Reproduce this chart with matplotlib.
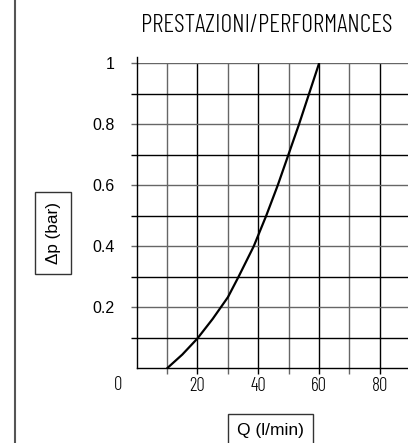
import matplotlib
matplotlib.use('Agg')
import numpy as np
import matplotlib.pyplot as plt
from matplotlib import font_manager as fm
from matplotlib.lines import Line2D
from matplotlib.ticker import FixedLocator
import matplotlib.transforms as mtransforms

# flow (l/min) vs pressure drop (bar)
q = [10, 15, 20, 25, 30, 33.5, 36, 38.5, 42.6, 46.4, 49.9, 53.4, 56.7, 60]
dp = [0.0, 0.045, 0.098, 0.162, 0.233, 0.3, 0.35, 0.4, 0.5, 0.6, 0.7, 0.8, 0.9, 1.0]

x_major = [20, 40, 60, 80]
x_minor = [10, 30, 50, 70, 90]
y_major = [0.2, 0.4, 0.6, 0.8, 1.0]
y_minor = [0.1, 0.3, 0.5, 0.7, 0.9]
y_labels = ['0.2', '0.4', '0.6', '0.8', '1']

title = 'PRESTAZIONI/PERFORMANCES'
xlabel = 'Q (l/min)'
ylabel = '\u0394p (bar)'

avail = {f.name for f in fm.fontManager.ttflist}
def pick(cands):
    for c in cands:
        if c in avail:
            return c
    return 'DejaVu Sans'

cad = pick(['Barlow Condensed', 'Archivo Narrow', 'Liberation Sans Narrow'])
arial = pick(['Liberation Sans', 'Arial'])

fig = plt.figure(figsize=(4.08, 4.43), dpi=100)
ax = fig.add_axes([0.335, 0.1686, 0.6706, 0.6885])
ax.set_xlim(0, 90)
ax.set_ylim(0, 1)

ax.xaxis.set_major_locator(FixedLocator(x_major))
ax.xaxis.set_minor_locator(FixedLocator(x_minor))
ax.yaxis.set_major_locator(FixedLocator(y_major))
ax.yaxis.set_minor_locator(FixedLocator(y_minor))
ax.set_yticklabels(y_labels)

ax.grid(True, axis='x', which='major', color='black', lw=1)
ax.grid(True, axis='x', which='minor', color='#666666', lw=1)
ax.grid(True, axis='y', which='major', color='#666666', lw=1)
ax.grid(True, axis='y', which='minor', color='black', lw=1)

ax.tick_params(axis='x', which='major', length=4, width=1, color='black', pad=2)
ax.tick_params(axis='x', which='minor', length=4, width=1, color='#666666')
ax.tick_params(axis='y', which='major', length=4, width=1, color='#666666', pad=12)
ax.tick_params(axis='y', which='minor', length=4, width=1, color='black')
for lab in ax.get_xticklabels():
    lab.set_fontfamily(cad)
    lab.set_fontweight(300)
    lab.set_fontsize(13.5)
for lab in ax.get_yticklabels():
    lab.set_fontfamily(arial)
    lab.set_fontsize(11.5)

for s in ['top', 'right']:
    ax.spines[s].set_visible(False)
ax.spines['left'].set_linewidth(1)
ax.spines['bottom'].set_linewidth(1)
ax.spines['left'].set_bounds(0, 1.02)

ax.plot(q, dp, color='black', lw=1.6, solid_capstyle='round', solid_joinstyle='round')

# origin label
off = mtransforms.offset_copy(ax.transAxes, fig=fig, x=-18.7, y=-16.5, units='dots')
ax.text(0, 0, '0', transform=off, fontfamily=cad, fontweight=300, fontsize=13.5,
        ha='center', va='center')

fig.text(267 / 408, 1 - 26 / 443, title, fontfamily=cad, fontweight=300, fontsize=18.5,
         ha='center', va='center')

fig.text(53 / 408, 1 - 233 / 443, ylabel, fontfamily=arial, fontsize=12.3, rotation=90,
         ha='center', va='center',
         bbox=dict(boxstyle='square,pad=0.6', fc='white', ec='#333333', lw=1))
fig.text(270.5 / 408, 1 - 430.5 / 443, xlabel, fontfamily=arial, fontsize=12.5,
         ha='center', va='center',
         bbox=dict(boxstyle='square,pad=0.5', fc='white', ec='#333333', lw=1))

fig.add_artist(Line2D([14.5 / 408, 14.5 / 408], [0, 1], transform=fig.transFigure,
                      color='#555555', lw=1.5))

fig.savefig('out.png', dpi=100)
